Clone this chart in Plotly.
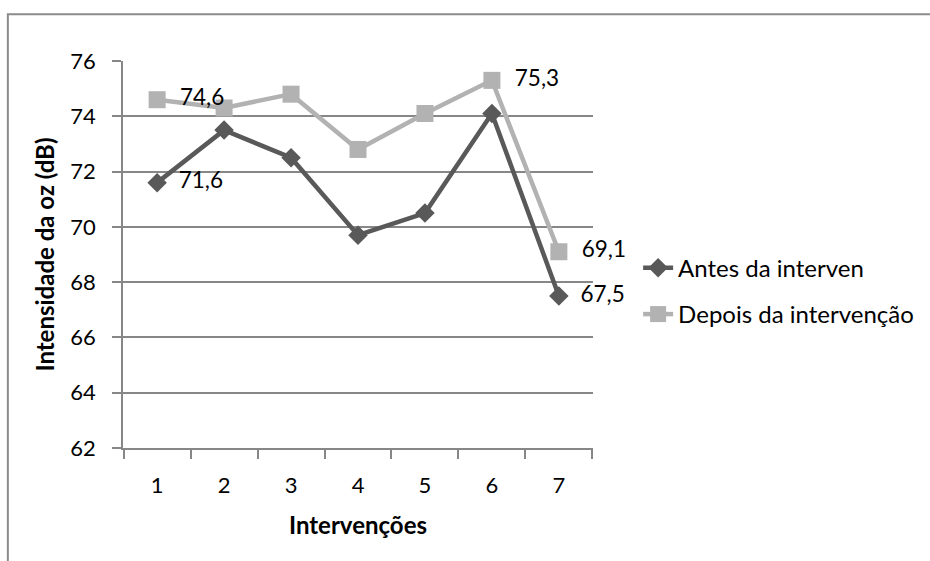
import plotly.graph_objects as go

# Sound intensity per intervention session, before and after
intervencoes = ["1", "2", "3", "4", "5", "6", "7"]
antes = [71.6, 73.5, 72.5, 69.7, 70.5, 74.1, 67.5]
depois = [74.6, 74.3, 74.8, 72.8, 74.1, 75.3, 69.1]

# Which points carry a value label
antes_rotulos = [True, False, False, False, False, False, True]
depois_rotulos = [True, False, False, False, False, True, True]

y_ticks = [62, 64, 66, 68, 70, 72, 74, 76]

FONT = "Lato"
GRID = "#878787"
DARK = "#595959"
LIGHT = "#b2b2b2"
GAP = "\u2002"  # small lead-in so value labels sit clear of the markers


def fmt(v):
    return GAP + f"{v:.1f}".replace(".", ",")


fig = go.Figure()
fig.add_trace(go.Scatter(
    x=intervencoes, y=antes, name="Antes da interven",
    mode="lines+markers+text",
    line=dict(color=DARK, width=4.5),
    marker=dict(symbol="diamond", size=15, color=DARK),
    text=[fmt(v) if s else "" for v, s in zip(antes, antes_rotulos)],
    textposition="middle right",
    textfont=dict(family=FONT, size=22.5, color="#000000"),
    legend="legend", showlegend=True,
    cliponaxis=False,
))
fig.add_trace(go.Scatter(
    x=intervencoes, y=depois, name="Depois da intervenção",
    mode="lines+markers+text",
    line=dict(color=LIGHT, width=4.5),
    marker=dict(symbol="square", size=17, color=LIGHT),
    text=[fmt(v) if s else "" for v, s in zip(depois, depois_rotulos)],
    textposition="middle right",
    textfont=dict(family=FONT, size=22.5, color="#000000"),
    legend="legend2", showlegend=True,
    cliponaxis=False,
))

legend_common = dict(
    font=dict(family=FONT, size=24, color="#000000"),
    bgcolor="rgba(0,0,0,0)",
    xanchor="left", yanchor="middle",
    itemwidth=30,
)

fig.update_layout(
    width=930, height=561,
    margin=dict(l=123, r=337, t=61, b=113, autoexpand=False),
    paper_bgcolor="white", plot_bgcolor="white",
    showlegend=True,
    font=dict(family=FONT, size=21, color="#000000"),
    legend=dict(x=1.096, y=0.465, **legend_common),
    legend2=dict(x=1.096, y=0.345, **legend_common),
    xaxis=dict(
        type="category",
        categoryorder="array", categoryarray=intervencoes,
        tickson="boundaries",
        ticks="outside", ticklen=9, tickwidth=1.5, tickcolor=GRID,
        showline=True, linecolor=GRID, linewidth=1.5,
        showgrid=False, zeroline=False,
        ticklabelstandoff=17,
        tickfont=dict(family=FONT, size=22, color="#000000"),
        title=dict(text="<b>Intervenções</b>",
                   font=dict(family=FONT, size=24, color="#000000"),
                   standoff=20),
    ),
    yaxis=dict(
        range=[62, 76],
        tickvals=y_ticks,
        ticktext=[str(v) for v in y_ticks],
        ticks="outside", ticklen=9, tickwidth=1.5, tickcolor=GRID,
        showline=True, linecolor=GRID, linewidth=1.5,
        showgrid=True, gridcolor=GRID, gridwidth=1.5,
        zeroline=False,
        ticklabelstandoff=12,
        tickfont=dict(family=FONT, size=22, color="#000000"),
        title=dict(text="<b>Intensidade da oz (dB)</b>",
                   font=dict(family=FONT, size=24, color="#000000"),
                   standoff=9),
    ),
    shapes=[dict(
        type="rect", xref="paper", yref="paper",
        x0=-0.245, x1=1.75, y0=-0.35, y1=1.121,
        line=dict(color="#8c8c8c", width=2),
        fillcolor="rgba(0,0,0,0)", layer="below",
    )],
)

fig.write_html("out.html")
